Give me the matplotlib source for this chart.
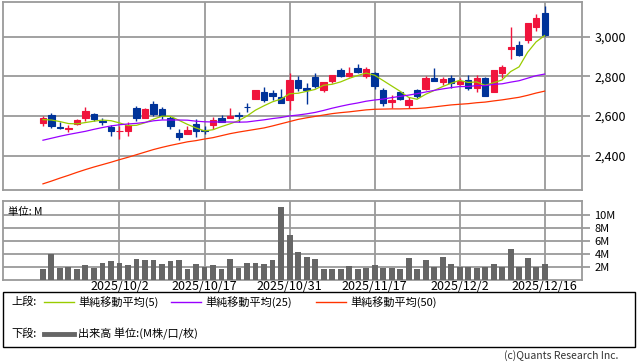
import numpy as np
import pandas as pd
import matplotlib
matplotlib.use("Agg")
import matplotlib.pyplot as plt
from matplotlib.lines import Line2D
from matplotlib.patches import Rectangle

plt.rcParams['font.family'] = ['Noto Sans CJK JP', 'DejaVu Sans']

# daily OHLC, 2025/9/18 .. 2025/12/16 (60 trading days)
open_ = [2565, 2605, 2545, 2535, 2560, 2590, 2611, 2573, 2543, 2522,
         2522, 2640, 2592, 2660, 2635, 2588, 2513, 2510, 2560, 2528,
         2557, 2590, 2588, 2603, 2648, 2688, 2723, 2717, 2698, 2680,
         2780, 2743, 2797, 2730, 2777, 2830, 2800, 2840, 2802, 2815,
         2730, 2672, 2723, 2657, 2730, 2738, 2790, 2772, 2793, 2760,
         2782, 2740, 2790, 2722, 2818, 2940, 2960, 2982, 3047, 3122]
high = [2600, 2616, 2571, 2555, 2585, 2645, 2613, 2588, 2557, 2552,
        2572, 2652, 2642, 2675, 2645, 2598, 2535, 2548, 2585, 2552,
        2593, 2605, 2640, 2618, 2668, 2732, 2745, 2732, 2735, 2818,
        2802, 2765, 2815, 2773, 2805, 2840, 2847, 2860, 2848, 2822,
        2743, 2705, 2727, 2698, 2735, 2802, 2840, 2798, 2805, 2790,
        2805, 2805, 2797, 2832, 2857, 3047, 2977, 3070, 3113, 3155]
low = [2552, 2541, 2535, 2518, 2557, 2577, 2573, 2557, 2497, 2482,
       2499, 2573, 2590, 2602, 2585, 2535, 2477, 2510, 2493, 2510,
       2535, 2568, 2588, 2572, 2618, 2686, 2672, 2682, 2667, 2632,
       2725, 2662, 2742, 2722, 2768, 2798, 2798, 2818, 2790, 2735,
       2652, 2643, 2680, 2638, 2693, 2732, 2777, 2755, 2743, 2755,
       2732, 2720, 2700, 2720, 2790, 2890, 2905, 2968, 3030, 3005]
close = [2592, 2551, 2542, 2538, 2580, 2625, 2585, 2570, 2522, 2525,
         2557, 2592, 2635, 2612, 2600, 2552, 2493, 2532, 2523, 2525,
         2582, 2572, 2602, 2600, 2645, 2730, 2682, 2702, 2668, 2780,
         2742, 2730, 2750, 2773, 2805, 2802, 2818, 2823, 2835, 2752,
         2668, 2682, 2688, 2682, 2702, 2793, 2777, 2788, 2765, 2777,
         2740, 2790, 2702, 2830, 2848, 2950, 2910, 3068, 3093, 3008]

# volume in millions
volume = [1.7, 3.95, 1.9, 2.0, 1.7, 2.3, 1.9, 2.6, 2.9, 2.6,
          2.3, 3.2, 3.1, 3.1, 2.45, 2.9, 3.1, 1.7, 2.45, 2.0,
          2.3, 1.7, 3.2, 1.9, 2.6, 2.6, 2.45, 3.1, 11.2, 6.9,
          4.3, 3.5, 3.2, 1.7, 1.7, 1.7, 2.15, 1.7, 1.9, 2.3,
          1.9, 1.9, 1.7, 3.4, 1.7, 3.1, 2.0, 3.5, 2.45, 2.0,
          2.0, 1.9, 2.0, 2.45, 2.0, 4.8, 2.0, 3.4, 2.0, 2.45]

# moving average values before enough days are on the chart
ma5_head = [2582, 2580, 2572, 2562]
ma25_head = [2478, 2488, 2498, 2507, 2515, 2523, 2533, 2542, 2550, 2556,
             2560, 2563, 2568, 2576, 2580, 2580, 2580, 2579, 2574, 2571,
             2570, 2570, 2570, 2569]
ma50_head = [2258, 2272, 2287, 2301, 2316, 2330, 2343, 2355, 2367, 2380,
             2392, 2405, 2418, 2431, 2442, 2452, 2461, 2470, 2476, 2484,
             2491, 2501, 2511, 2519, 2526, 2533, 2540, 2550, 2561, 2572,
             2583, 2591, 2598, 2605, 2612, 2617, 2621, 2626, 2631, 2634,
             2635, 2636, 2636, 2637, 2638, 2641, 2646, 2651, 2656]

tick_idx = [9, 19, 29, 39, 49, 59]
tick_labels = ['2025/10/2', '2025/10/17', '2025/10/31', '2025/11/17', '2025/12/2', '2025/12/16']


def moving_avg(n, head):
    s = pd.Series(close, dtype=float).rolling(n).mean().to_numpy()
    s[:len(head)] = head
    return s


ma5 = moving_avg(5, ma5_head)
ma25 = moving_avg(25, ma25_head)
ma50 = moving_avg(50, ma50_head)

x = np.arange(len(close))
up_col = '#f0143c'
dn_col = '#003399'
grid_col = '#9a9a9a'

fig = plt.figure(figsize=(6.38, 3.62), dpi=100)
ax = fig.add_axes([3/638, 1-190/362, 579/638, 188/362])
axv = fig.add_axes([3/638, 1-280/362, 579/638, 79/362])

for a in (ax, axv):
    a.set_xlim(-4.7, 63.4)
    a.set_xticks(tick_idx)
    a.yaxis.tick_right()
    a.grid(True, color=grid_col, lw=1.3)
    a.set_axisbelow(True)
    for sp in a.spines.values():
        sp.set_color(grid_col)
        sp.set_linewidth(1.3)
    a.tick_params(axis='x', length=0)
    a.tick_params(axis='y', length=6, width=1.3, color=grid_col, pad=3)

# candles
for i in x:
    o, h, l, c = open_[i], high[i], low[i], close[i]
    col = up_col if c > o else dn_col
    ax.vlines(i, l, h, color=col, lw=1.0, zorder=3)
    ax.bar(i, abs(c - o), bottom=min(o, c), width=0.72, color=col,
           edgecolor=col, linewidth=0.8, zorder=4)

ax.plot(x, ma5, color='#99cc00', lw=0.9, zorder=5)
ax.plot(x, ma25, color='#9900ff', lw=0.9, zorder=5)
ax.plot(x, ma50, color='#ff3300', lw=0.9, zorder=5)

ax.set_ylim(2227, 3175)
ax.set_yticks([2400, 2600, 2800, 3000])
ax.set_yticklabels(['2,400', '2,600', '2,800', '3,000'], fontsize=9)
ax.set_xticklabels([])

# volume
axv.bar(x, volume, width=0.7, color='#666666', zorder=3)
axv.set_ylim(0, 12.15)
axv.set_yticks([2, 4, 6, 8, 10])
axv.set_yticklabels(['2M', '4M', '6M', '8M', '10M'], fontsize=8)
axv.set_xticklabels(tick_labels, fontsize=9)
axv.tick_params(axis='x', pad=0)
axv.text(0.008, 0.93, '単位: M', transform=axv.transAxes, fontsize=7.5,
         va='top', ha='left')

# legend box
fig.patches.append(Rectangle((3/638, 1-347/362), 632/638, 55/362,
                             transform=fig.transFigure, fill=False,
                             edgecolor='black', lw=1))
ly1 = 1 - 302/362
ly2 = 1 - 334/362
fs = 8
fig.text(11/638, ly1, '上段:', fontsize=fs, va='center')
for x0, x1, col, lab in [(44, 74, '#99cc00', '単純移動平均(5)'),
                         (171, 201, '#9900ff', '単純移動平均(25)'),
                         (316, 346, '#ff3300', '単純移動平均(50)')]:
    fig.add_artist(Line2D([x0/638, x1/638], [ly1, ly1], color=col, lw=1,
                          transform=fig.transFigure))
    fig.text((x1 + 4)/638, ly1, lab, fontsize=fs, va='center')
fig.text(11/638, ly2, '下段:', fontsize=fs, va='center')
fig.add_artist(Line2D([44/638, 74/638], [ly2, ly2], color='#666666', lw=3.5,
                      transform=fig.transFigure))
fig.text(78/638, ly2, '出来高 単位:(M株/口/枚)', fontsize=fs, va='center')

fig.text(618/638, 1-356/362, '(c)Quants Research Inc.', fontsize=7.5,
         ha='right', va='center', color='#333333')

fig.savefig('out.png', dpi=100)
